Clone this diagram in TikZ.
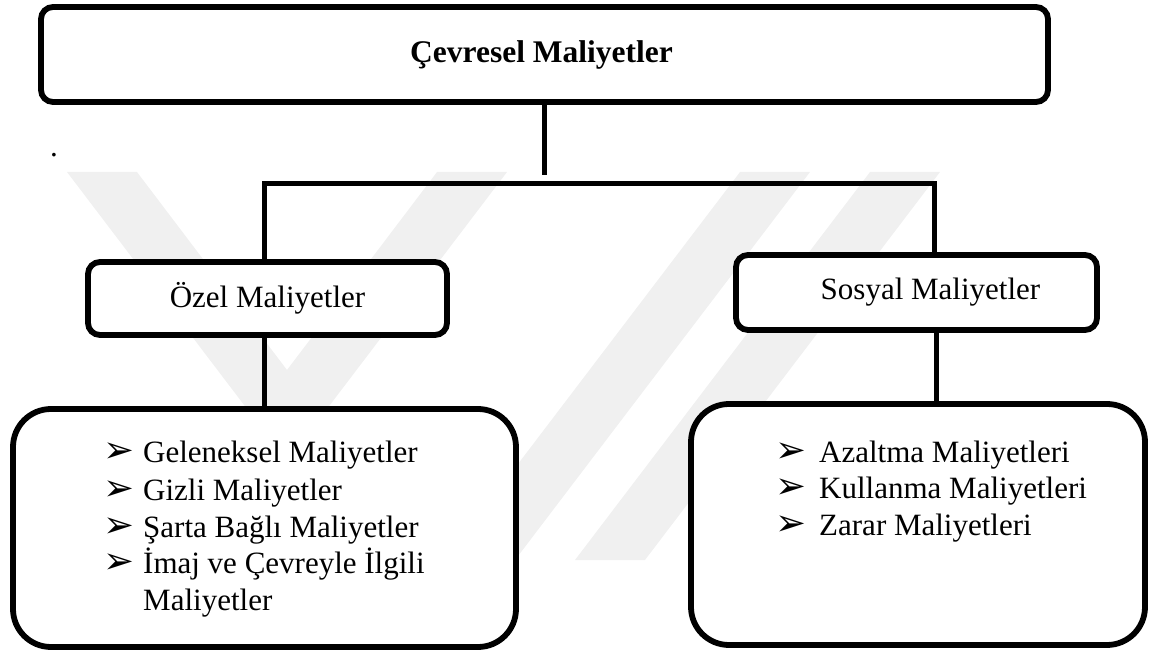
\documentclass[tikz,border=0pt]{standalone}
\usepackage{fontspec}
\setmainfont{Liberation Serif}
\newfontfamily\symfont{DejaVu Sans}
\newcommand\arrowbullet{{\symfont\fontsize{37}{37}\selectfont ➢}}
\begin{document}
\begin{tikzpicture}[x=1pt,y=-1pt,
  box/.style={draw=black, line width=5.8pt, rounded corners=12pt, fill=white, inner sep=0pt},
  listbox/.style={box, rounded corners=38pt},
  conn/.style={draw=black, line width=5pt, line join=miter},
  label/.style={font=\fontsize{31}{37}\selectfont},
  item/.style={anchor=base west, inner sep=0pt, font=\fontsize{31}{37}\selectfont},
  logoband/.style={fill=black!6, draw=none},
]
\useasboundingbox (0,0) rectangle (1149,652);

% faint background logo: a chevron and two slanted bars
\fill[logoband] (67,172) -- (137,172) -- (287,370) -- (437,172) -- (507,172) -- (287,461.5) -- cycle;
\fill[logoband] (740,172) -- (810,172) -- (515,560) -- (445,560) -- cycle;
\fill[logoband] (870,172) -- (940,172) -- (645,560) -- (575,560) -- cycle;

% stray full stop on the left margin
\node[item] (dot) at (50,157) {.};

% boxes
\node[box, minimum width=1007pt, minimum height=95pt,
      font=\bfseries\fontsize{31.5}{37}\selectfont] (top) at (544.5,54.5) {\hspace*{-6pt}Çevresel Maliyetler};
\node[box, label, minimum width=359pt, minimum height=73pt] (ozel) at (267.5,298.5) {Özel Maliyetler};
\node[box, label, minimum width=361pt, minimum height=75pt] (sosyal) at (916.5,292.5) {\hspace*{28pt}Sosyal Maliyetler};
\node[listbox, minimum width=503pt, minimum height=238pt] (ozelList) at (264.5,528) {};
\node[listbox, minimum width=454pt, minimum height=241pt] (sosyalList) at (918,524.5) {};

% connectors
\coordinate (stemEnd) at (544,175);
\coordinate (barL) at (264,184);
\coordinate (barR) at (934,184);
\coordinate (rs) at (936,330);
\draw[conn] (top.south -| stemEnd) -- (stemEnd);
\draw[conn] (ozel.north -| barL) -- (barL) -- (barR) -- (sosyal.north -| barR);
\draw[conn] (ozel.south -| barL) -- (ozelList.north -| barL);
\draw[conn] (sosyal.south -| rs) -- (sosyalList.north -| rs);

% list entries, left
\node[item] (o1) at (103,462) {\makebox[40pt][l]{\arrowbullet}Geleneksel Maliyetler};
\node[item] (o2) at (103,500) {\makebox[40pt][l]{\arrowbullet}Gizli Maliyetler};
\node[item] (o3) at (103,537) {\makebox[40pt][l]{\arrowbullet}Şarta Bağlı Maliyetler};
\node[item] (o4) at (103,573) {\makebox[40pt][l]{\arrowbullet}İmaj ve Çevreyle İlgili};
\node[item] (o5) at (143,610) {Maliyetler};

% list entries, right
\node[item] (s1) at (775,462) {\makebox[44pt][l]{\arrowbullet}Azaltma Maliyetleri};
\node[item] (s2) at (775,498) {\makebox[44pt][l]{\arrowbullet}Kullanma Maliyetleri};
\node[item] (s3) at (775,535) {\makebox[44pt][l]{\arrowbullet}Zarar Maliyetleri};
\end{tikzpicture}
\end{document}
